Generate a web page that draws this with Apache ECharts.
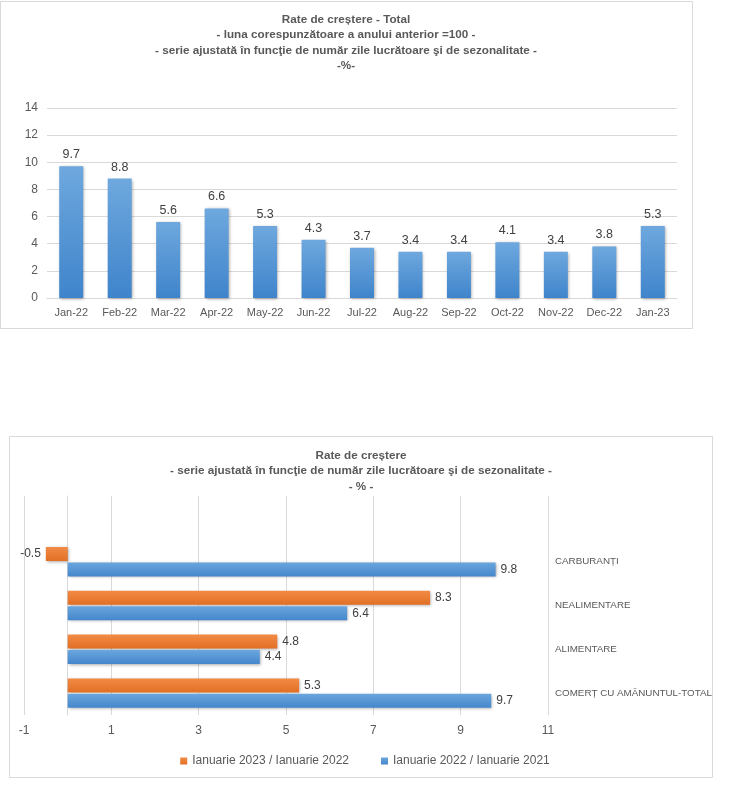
<!DOCTYPE html>
<html>
<head>
<meta charset="utf-8">
<script src="https://cdn.jsdelivr.net/npm/echarts@6/dist/echarts.min.js"></script>
<style>
html,body{margin:0;padding:0;background:#fff;}
#c{width:730px;height:804px;}
</style>
</head>
<body>
<div id="c"></div>
<script>
// ---- data ----
const months = ['Jan-22','Feb-22','Mar-22','Apr-22','May-22','Jun-22','Jul-22','Aug-22','Sep-22','Oct-22','Nov-22','Dec-22','Jan-23'];
const totalGrowth = [9.7, 8.8, 5.6, 6.6, 5.3, 4.3, 3.7, 3.4, 3.4, 4.1, 3.4, 3.8, 5.3];

const retailCategories = ['COMERȚ CU AMĂNUNTUL-TOTAL', 'ALIMENTARE', 'NEALIMENTARE', 'CARBURANȚI', ''];
const jan2023vsJan2022 = [5.3, 4.8, 8.3, -0.5, null];
const jan2022vsJan2021 = [9.7, 4.4, 6.4, 9.8, null];
const seriesNames = ['Ianuarie 2023 / Ianuarie 2022', 'Ianuarie 2022 / Ianuarie 2021'];

const topTitle = ['Rate de creștere - Total', '- luna corespunzătoare a anului anterior =100 -', '- serie ajustată în funcţie de număr zile lucrătoare şi de sezonalitate -', '-%-'];
const bottomTitle = ['Rate de creștere', '- serie ajustată în funcţie de număr zile lucrătoare şi de sezonalitate -', '- % -'];

// ---- styles ----
const FF = "'Liberation Sans', Arial, sans-serif";
const GRID = '#d9d9d9';
const LBL = '#595959';
const VAL = '#404040';
const blueGrad = new echarts.graphic.LinearGradient(0, 0, 0, 1, [
  {offset: 0, color: '#6ea8de'}, {offset: 1, color: '#3f84cb'}]);
const blueGradH = new echarts.graphic.LinearGradient(0, 0, 0, 1, [
  {offset: 0, color: '#6aa6de'}, {offset: 1, color: '#4587cc'}]);
const orangeGradH = new echarts.graphic.LinearGradient(0, 0, 0, 1, [
  {offset: 0, color: '#f28b45'}, {offset: 1, color: '#e26f24'}]);
const shadow = {shadowBlur: 3, shadowColor: 'rgba(0,0,0,0.35)', shadowOffsetX: 1, shadowOffsetY: 1};

function labelData(arr) {
  return arr.map(v => (v !== null && v < 0) ? {value: v, label: {position: 'left'}} : v);
}

const chart = echarts.init(document.getElementById('c'), null, {renderer: 'canvas'});
chart.setOption({
  animation: false,
  backgroundColor: '#fff',
  graphic: [
    {type: 'rect', shape: {x: 0.5, y: 1.5, width: 692, height: 327}, style: {fill: 'none', stroke: GRID, lineWidth: 1}, z: -10},
    {type: 'rect', shape: {x: 9.5, y: 436.5, width: 703, height: 341}, style: {fill: 'none', stroke: GRID, lineWidth: 1}, z: -10},
    {type: 'text', x: 346, y: 12, style: {text: topTitle.join('\n'), textAlign: 'center', textVerticalAlign: 'top', fill: LBL, fontFamily: FF, fontSize: 11.7, fontWeight: 'bold', lineHeight: 15.5}},
    {type: 'text', x: 361, y: 448, style: {text: bottomTitle.join('\n'), textAlign: 'center', textVerticalAlign: 'top', fill: LBL, fontFamily: FF, fontSize: 11.7, fontWeight: 'bold', lineHeight: 15.5}}
  ],
  legend: {
    data: seriesNames,
    left: 'center',
    top: 750,
    icon: 'rect',
    itemWidth: 7,
    itemHeight: 7,
    itemGap: 32,
    textStyle: {color: LBL, fontFamily: FF, fontSize: 12}
  },
  grid: [
    {left: 47, right: 53, top: 108, bottom: 506},
    {left: 24, right: 182, top: 496, bottom: 89}
  ],
  xAxis: [
    {type: 'category', gridIndex: 0, data: months,
     axisLine: {lineStyle: {color: GRID}}, axisTick: {show: false},
     axisLabel: {color: LBL, fontFamily: FF, fontSize: 11, margin: 9, interval: 0}},
    {type: 'value', gridIndex: 1, min: -1, max: 11, interval: 2,
     axisLine: {show: false}, axisTick: {show: false},
     splitLine: {lineStyle: {color: GRID}},
     axisLabel: {color: LBL, fontFamily: FF, fontSize: 12, margin: 10}}
  ],
  yAxis: [
    {type: 'value', gridIndex: 0, min: 0, max: 14, interval: 2,
     axisLine: {show: false}, axisTick: {show: false},
     splitLine: {lineStyle: {color: GRID}},
     axisLabel: {color: LBL, fontFamily: FF, fontSize: 12, margin: 9}},
    {type: 'category', gridIndex: 1, data: retailCategories,
     axisLine: {show: true, onZero: true, lineStyle: {color: GRID}}, axisTick: {show: false},
     axisLabel: {show: false}},
    {type: 'category', gridIndex: 1, data: retailCategories, position: 'right',
     axisLine: {show: false}, axisTick: {show: false},
     axisLabel: {color: LBL, fontFamily: FF, fontSize: 9.8, margin: 7, align: 'left'}}
  ],
  series: [
    {type: 'bar', name: 'Rate de creștere - Total', xAxisIndex: 0, yAxisIndex: 0, data: totalGrowth,
     barWidth: 24, itemStyle: Object.assign({color: blueGrad}, shadow),
     label: {show: true, position: 'top', distance: 5, color: VAL, fontFamily: FF, fontSize: 12.5}},
    {type: 'bar', name: seriesNames[0], xAxisIndex: 1, yAxisIndex: 1, data: labelData(jan2023vsJan2022),
     barWidth: 14, barGap: '10%', itemStyle: Object.assign({color: orangeGradH}, shadow),
     label: {show: true, position: 'right', distance: 5, color: VAL, fontFamily: FF, fontSize: 12}},
    {type: 'bar', name: seriesNames[1], xAxisIndex: 1, yAxisIndex: 1, data: labelData(jan2022vsJan2021),
     barWidth: 14, barGap: '10%', itemStyle: Object.assign({color: blueGradH}, shadow),
     label: {show: true, position: 'right', distance: 5, color: VAL, fontFamily: FF, fontSize: 12}}
  ]
});
</script>
</body>
</html>
